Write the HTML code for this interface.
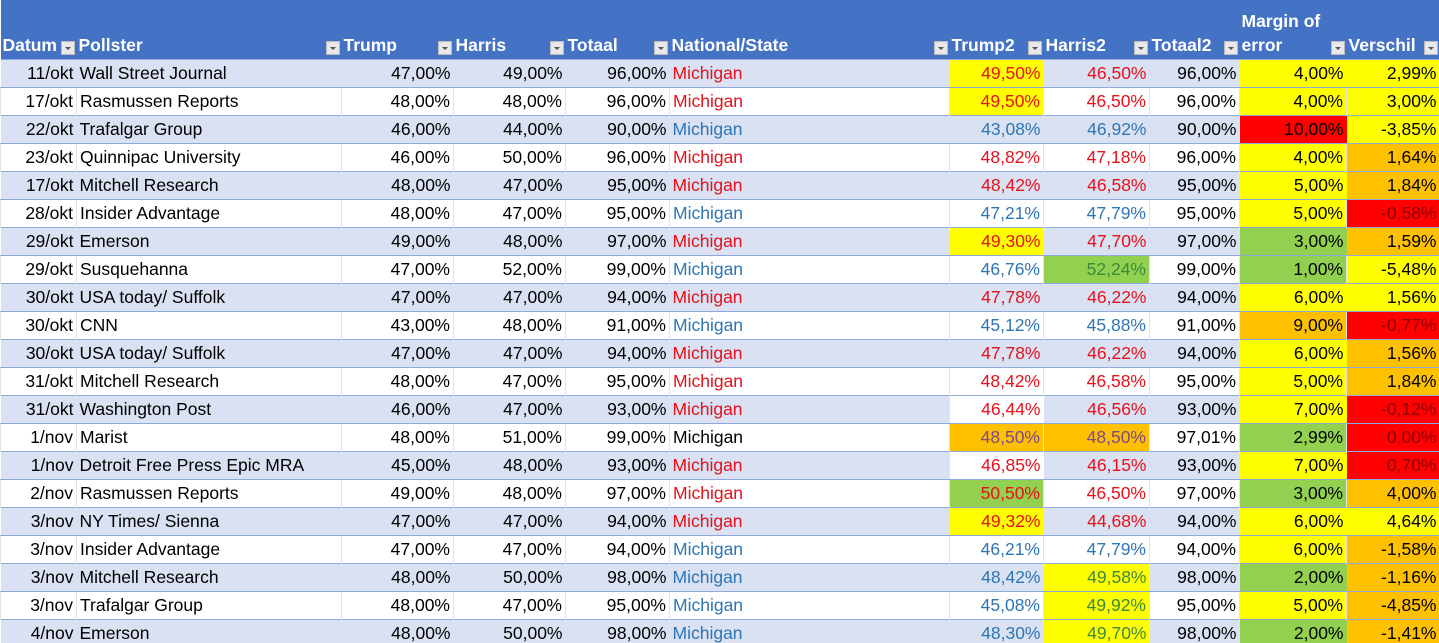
<!DOCTYPE html>
<html><head><meta charset="utf-8">
<style>
html,body{margin:0;padding:0;background:#fff;width:1439px;height:643px;overflow:hidden}
body{font-family:"Liberation Sans",sans-serif;font-size:17.5px;color:#000}
table{border-collapse:collapse;table-layout:fixed;width:1439px}
td{height:27px;padding:0 3px 0 3px;white-space:nowrap;overflow:hidden;border-top:1px solid #8ea9db;line-height:27px}
tr.b td{background:#d9e1f2}
tr.w td{background:#fff;border-left:1px solid #e4e4e4}
th{background:#4472c4;color:#fff;font-weight:bold;text-align:left;vertical-align:bottom;height:57px;padding:0 2px 2px 2px;position:relative;white-space:nowrap;font-size:17.5px;line-height:24px}
.dd{position:absolute;right:2px;bottom:4px;width:14px;height:14px;background:#e8e8e8;border:1px solid #bbb;box-sizing:border-box}
.dd:after{content:"";position:absolute;left:3px;top:5px;border-left:3px solid transparent;border-right:3px solid transparent;border-top:3px solid #555}
.r{text-align:right}
.R{color:#e8101a}.B{color:#2e75b6}.G{color:#3a8a3a}.P{color:#7a4a8a}.D{color:#8b0000}
.y{background:#ffff00!important}.rd{background:#ff0000!important}.gr{background:#92d050!important}.or{background:#ffc000!important}.wh{background:#fff!important}
</style></head><body>
<table>
<colgroup><col style="width:76px"><col style="width:265px"><col style="width:112px"><col style="width:112px"><col style="width:104px"><col style="width:280px"><col style="width:94px"><col style="width:106px"><col style="width:90px"><col style="width:107px"><col style="width:93px"></colgroup>
<thead><tr>
<th>Datum<span class="dd"></span></th>
<th>Pollster<span class="dd"></span></th>
<th>Trump<span class="dd"></span></th>
<th>Harris<span class="dd"></span></th>
<th>Totaal<span class="dd"></span></th>
<th>National/State<span class="dd"></span></th>
<th>Trump2<span class="dd"></span></th>
<th>Harris2<span class="dd"></span></th>
<th>Totaal2<span class="dd"></span></th>
<th>Margin of<br>error<span class="dd"></span></th>
<th style="padding-right:0">Verschil<span class="dd"></span></th>
</tr></thead>
<tbody id="tb"></tbody></table>
<script>
const dates=["11/okt","17/okt","22/okt","23/okt","17/okt","28/okt","29/okt","29/okt","30/okt","30/okt","30/okt","31/okt","31/okt","1/nov","1/nov","2/nov","3/nov","3/nov","3/nov","3/nov","4/nov"];
const pollsters=["Wall Street Journal","Rasmussen Reports","Trafalgar Group","Quinnipac University","Mitchell Research","Insider Advantage","Emerson","Susquehanna","USA today/ Suffolk","CNN","USA today/ Suffolk","Mitchell Research","Washington Post","Marist","Detroit Free Press Epic MRA","Rasmussen Reports","NY Times/ Sienna","Insider Advantage","Mitchell Research","Trafalgar Group","Emerson"];
const trump=["47,00%","48,00%","46,00%","46,00%","48,00%","48,00%","49,00%","47,00%","47,00%","43,00%","47,00%","48,00%","46,00%","48,00%","45,00%","49,00%","47,00%","47,00%","48,00%","48,00%","48,00%"];
const harris=["49,00%","48,00%","44,00%","50,00%","47,00%","47,00%","48,00%","52,00%","47,00%","48,00%","47,00%","47,00%","47,00%","51,00%","48,00%","48,00%","47,00%","47,00%","50,00%","47,00%","50,00%"];
const totaal=["96,00%","96,00%","90,00%","96,00%","95,00%","95,00%","97,00%","99,00%","94,00%","91,00%","94,00%","95,00%","93,00%","99,00%","93,00%","97,00%","94,00%","94,00%","98,00%","95,00%","98,00%"];
const stateCol=["R","R","B","R","R","B","R","B","R","B","R","R","R","","R","R","R","B","B","B","B"];
const trump2=["49,50%","49,50%","43,08%","48,82%","48,42%","47,21%","49,30%","46,76%","47,78%","45,12%","47,78%","48,42%","46,44%","48,50%","46,85%","50,50%","49,32%","46,21%","48,42%","45,08%","48,30%"];
const t2bg=["y","y","","","","","y","","","","","","wh","or","wh","gr","y","","","",""];
const harris2=["46,50%","46,50%","46,92%","47,18%","46,58%","47,79%","47,70%","52,24%","46,22%","45,88%","46,22%","46,58%","46,56%","48,50%","46,15%","46,50%","44,68%","47,79%","49,58%","49,92%","49,70%"];
const h2bg=["","","","","","","","gr","","","","","","or","","","","","y","y","y"];
const totaal2=["96,00%","96,00%","90,00%","96,00%","95,00%","95,00%","97,00%","99,00%","94,00%","91,00%","94,00%","95,00%","93,00%","97,01%","93,00%","97,00%","94,00%","94,00%","98,00%","95,00%","98,00%"];
const moe=["4,00%","4,00%","10,00%","4,00%","5,00%","5,00%","3,00%","1,00%","6,00%","9,00%","6,00%","5,00%","7,00%","2,99%","7,00%","3,00%","6,00%","6,00%","2,00%","5,00%","2,00%"];
const moeBg=["y","y","rd","y","y","y","gr","gr","y","or","y","y","y","gr","y","gr","y","y","gr","y","gr"];
const verschil=["2,99%","3,00%","-3,85%","1,64%","1,84%","-0,58%","1,59%","-5,48%","1,56%","-0,77%","1,56%","1,84%","-0,12%","0,00%","0,70%","4,00%","4,64%","-1,58%","-1,16%","-4,85%","-1,41%"];
const vBg=["y","y","y","or","or","rd","or","y","y","rd","or","or","rd","rd","rd","or","y","or","or","or","or"];
const tb=document.getElementById('tb');
function cell(tr,txt,cls,name){const td=document.createElement('td');td.textContent=txt;if(cls)td.className=cls;


tr.appendChild(td);return td;}
for(let i=0;i<dates.length;i++){
 const tr=document.createElement('tr');tr.className=i%2?'w':'b';
 
 
 const sc=stateCol[i];
 let hc=sc;if(h2bg[i]==='y'||h2bg[i]==='gr')hc='G';
 let tc=sc;if(t2bg[i]==='or'){tc='P';}
 cell(tr,dates[i],'r','date-cell');
 cell(tr,pollsters[i],'','pollster-cell');
 cell(tr,trump[i],'r','trump-cell');
 cell(tr,harris[i],'r','harris-cell');
 cell(tr,totaal[i],'r','totaal-cell');
 cell(tr,'Michigan',sc,'state-cell');
 cell(tr,trump2[i],'r '+tc+' '+t2bg[i],'trump2-cell');
 cell(tr,harris2[i],'r '+(h2bg[i]==='or'?'P':hc)+' '+h2bg[i],'harris2-cell');
 cell(tr,totaal2[i],'r','totaal2-cell');
 cell(tr,moe[i],'r '+moeBg[i],'margin-of-error-cell');
 cell(tr,verschil[i],'r '+vBg[i]+(vBg[i]==='rd'?' D':''),'verschil-cell');
 tb.appendChild(tr);
}
</script>
</body></html>
